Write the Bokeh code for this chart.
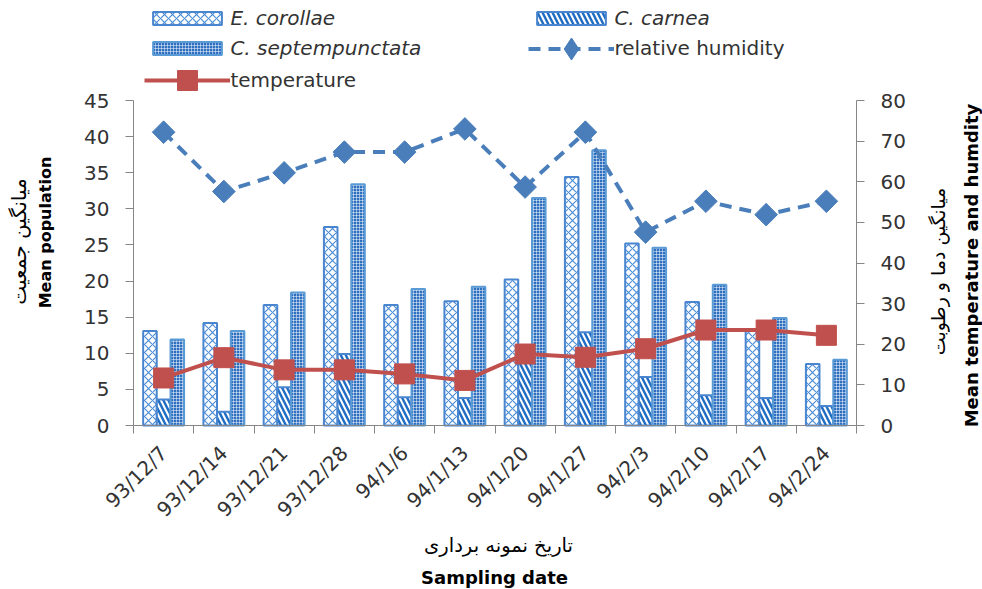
import numpy as np
from bokeh.plotting import figure
from bokeh.models import (Range1d, LinearAxis, FixedTicker, SingleIntervalTicker,
                          ColumnDataSource, Legend, LegendItem, Label)
from bokeh.transform import dodge
from bokeh.embed import file_html
from bokeh.resources import INLINE

# ---------------- data ----------------
dates = ["93/12/7", "93/12/14", "93/12/21", "93/12/28", "94/1/6", "94/1/13",
         "94/1/20", "94/1/27", "94/2/3", "94/2/10", "94/2/17", "94/2/24"]
e_corollae = [13.1, 14.2, 16.7, 27.5, 16.7, 17.2, 20.2, 34.4, 25.2, 17.1, 13.3, 8.5]
c_carnea = [3.6, 1.9, 5.3, 9.9, 3.9, 3.8, 8.8, 12.9, 6.7, 4.2, 3.8, 2.7]
c_septempunctata = [11.9, 13.1, 18.4, 33.4, 18.9, 19.2, 31.5, 38.1, 24.6, 19.5, 14.9, 9.1]
temperature = [11.7, 16.7, 13.7, 13.7, 12.7, 11.1, 17.6, 16.8, 18.9, 23.5, 23.5, 22.2]
humidity = [72.2, 57.6, 62.2, 67.3, 67.3, 73.0, 58.7, 72.2, 47.6, 55.2, 51.9, 55.2]
left_max = 45
right_max = 80

n = len(dates)
centers = [i + 0.5 for i in range(n)]
src = ColumnDataSource(dict(x=centers, e=e_corollae, c=c_carnea, s=c_septempunctata,
                            t=temperature, h=humidity))

# ---------------- layout (pixels) ----------------
W, H = 982, 589
FX0, FX1, FY0, FY1 = 133, 856, 100, 425   # plot area: left, right, top, bottom
sx = (FX1 - FX0) / n
sy = (FY1 - FY0) / left_max
sy_r = (FY1 - FY0) / right_max

def px(xp):
    return (xp - FX0) / sx

def py(yp):
    return (FY1 - yp) / sy

FONT = "DejaVu Sans"
AX = "#868686"
TXT = "#333333"
BLUE_LINE = "#4a86cf"
RED = "#c0504d"
HUM = "#4a7ebb"

p = figure(width=W, height=H,
           x_range=Range1d(-FX0 / sx, (W - FX0) / sx),
           y_range=Range1d(-(H - FY1) / sy, FY1 / sy),
           output_backend="svg", toolbar_location=None,
           min_border_left=0, min_border_right=0, min_border_top=0, min_border_bottom=0)
p.extra_y_ranges = {"right": Range1d(-(H - FY1) / sy_r, FY1 / sy_r)}
p.outline_line_color = None
p.xgrid.visible = False
p.ygrid.visible = False
p.background_fill_color = "white"
p.border_fill_color = "white"

# ---------------- axes ----------------
xa = p.xaxis[0]
xa.fixed_location = 0
xa.bounds = (0, n)
xa.ticker = FixedTicker(ticks=centers, minor_ticks=list(range(n + 1)))
xa.major_label_overrides = {c: d for c, d in zip(centers, dates)}
xa.major_tick_out = 0
xa.major_tick_in = 0
xa.minor_tick_out = 8
xa.minor_tick_in = 0
xa.minor_tick_line_color = AX
xa.major_label_orientation = np.pi / 4
xa.major_label_standoff = 16

ya = p.yaxis[0]
ya.fixed_location = 0
ya.bounds = (0, left_max)
ya.ticker = SingleIntervalTicker(interval=5, num_minor_ticks=0)
ya.major_label_standoff = 16

ra = LinearAxis(y_range_name="right", ticker=SingleIntervalTicker(interval=10, num_minor_ticks=0))
ra.fixed_location = n
ra.bounds = (0, right_max)
ra.major_label_standoff = 16
p.add_layout(ra, "right")

for ax in (xa, ya, ra):
    ax.axis_line_color = AX
    ax.axis_line_width = 1
    ax.major_tick_line_color = AX
    ax.major_label_text_font = FONT
    ax.major_label_text_font_size = "20px"
    ax.major_label_text_color = TXT
for ax in (ya, ra):
    ax.major_tick_out = 8
    ax.major_tick_in = 0
    ax.minor_tick_line_color = None

# ---------------- bars ----------------
bw = 0.225
off = 0.227
r_e = p.vbar(x=dodge("x", -off), top="e", width=bw, source=src,
             fill_color="white", line_color=BLUE_LINE, line_width=2,
             hatch_pattern="diagonal_cross", hatch_color="#4f8fd8", hatch_scale=8, hatch_weight=1.2)
r_c = p.vbar(x=dodge("x", 0), top="c", width=bw, source=src,
             fill_color="white", line_color=BLUE_LINE, line_width=2,
             hatch_pattern="left_diagonal_line", hatch_color="#1f6cc2", hatch_scale=10, hatch_weight=2.4)
r_s = p.vbar(x=dodge("x", off), top="s", width=bw, source=src,
             fill_color="#2f6fc0", line_color="#5b9bd5", line_width=2,
             hatch_pattern="cross", hatch_color="white", hatch_scale=3, hatch_weight=0.7, hatch_alpha=0.7)

# ---------------- lines ----------------
r_tl = p.line("x", "t", source=src, y_range_name="right", line_color=RED, line_width=4)
r_ts = p.scatter("x", "t", source=src, y_range_name="right", marker="square", size=20,
                 fill_color=RED, line_color=RED)
r_hl = p.line("x", "h", source=src, y_range_name="right", line_color=HUM, line_width=4,
              line_dash="12 8")
# diamond (shown in the legend), covered on the plot by the larger rotated square
r_hd = p.scatter("x", "h", source=src, y_range_name="right", marker="diamond", size=18,
                 fill_color=HUM, line_color=HUM)
r_hs = p.scatter("x", "h", source=src, y_range_name="right", marker="square", angle=np.pi / 4,
                 size=16, fill_color=HUM, line_color=HUM)

# ---------------- legends ----------------
def add_legend(items, left, bottom, italic, gh):
    lg = Legend(items=items, location=(left, H - bottom), orientation="vertical",
                glyph_width=86, glyph_height=gh, label_height=24, label_standoff=0,
                padding=0, margin=0, spacing=6, border_line_color=None,
                background_fill_alpha=0, label_text_font=FONT, label_text_font_size="20px",
                label_text_font_style="italic" if italic else "normal",
                label_text_color=TXT)
    p.add_layout(lg, "center")

add_legend([LegendItem(label="E. corollae", renderers=[r_e]),
            LegendItem(label="C. septempunctata", renderers=[r_s])], 144.4, 60, True, 16)
add_legend([LegendItem(label="C. carnea", renderers=[r_c])], 528.4, 30, True, 16)
add_legend([LegendItem(label="relative humidity", renderers=[r_hl, r_hd])], 528.4, 75.5, False, 55)
add_legend([LegendItem(label="temperature", renderers=[r_tl, r_ts])], 144.4, 105, False, 50)

# ---------------- axis titles ----------------
def add_label(xp, yp, text, angle, size, bold):
    p.add_layout(Label(x=px(xp), y=py(yp), text=text, angle=angle, text_align="center",
                       text_baseline="middle", text_font=FONT, text_font_size=size,
                       text_font_style="bold" if bold else "normal", text_color="black"))

add_label(18, 241, "میانگین جمعیت", np.pi / 2, "20px", False)
add_label(45, 232, "Mean population", np.pi / 2, "16px", True)
add_label(937, 271, "میانگین دما و رطوبت", np.pi / 2, "19px", False)
add_label(971, 265, "Mean temperature and humdity", np.pi / 2, "18px", True)
add_label(498, 545, "تاریخ نمونه برداری", 0, "19.5px", False)
add_label(494, 577, "Sampling date", 0, "18px", True)

open("out.html", "w").write(file_html(p, INLINE))
